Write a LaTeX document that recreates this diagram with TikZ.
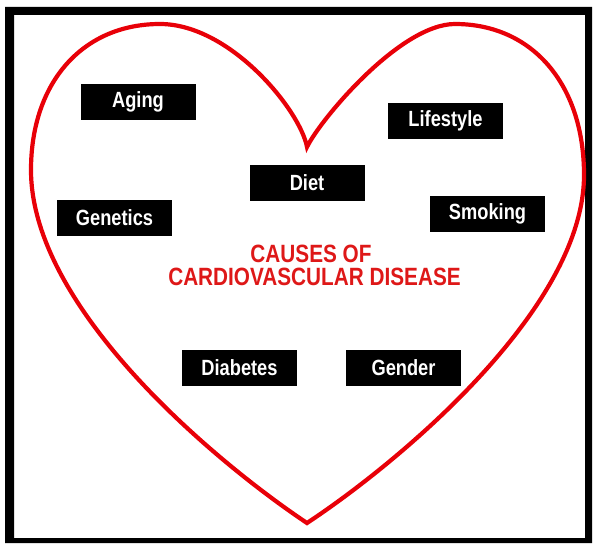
\documentclass[tikz,border=0pt]{standalone}
\usepackage{fontspec}
\setmainfont{Liberation Sans}
\definecolor{heartred}{RGB}{232,0,8}
\definecolor{titlered}{RGB}{222,24,24}
\tikzset{
  causebox/.style={fill=black, text=white, minimum width=115pt, minimum height=36pt,
    inner sep=0pt, font=\fontsize{22}{24}\selectfont\bfseries},
  titletext/.style={anchor=base, text=titlered, inner sep=0pt,
    font=\fontsize{25}{28}\selectfont\bfseries},
  heartline/.style={draw=heartred, line width=4.2pt, line join=miter}
}
\newcommand{\sqz}[2]{\scalebox{#1}[1]{#2}}
\begin{document}
\begin{tikzpicture}[x=1pt,y=-1pt]
\useasboundingbox (0,0) rectangle (593,543);
% frame
\fill[black, even odd rule] (5,7) rectangle (592,543) (14,15) rectangle (585,538);
% heart
\draw[heartline] (307,523) .. controls (220,465) and (31,310) .. (31,170)
  .. controls (31,82) and (83,24) .. (160,24)
  .. controls (230,24) and (300,110) .. (307,147)
  .. controls (320,120) and (400,24) .. (455,24)
  .. controls (532,24) and (584,84) .. (584,175)
  .. controls (584,310) and (395,465) .. (307,523) -- cycle;
% boxes
\node[causebox] (aging) at (138,101.5) {\sqz{0.83}{Aging}};
\node[causebox] (lifestyle) at (445.5,120.5) {\sqz{0.83}{Lifestyle}};
\node[causebox] (diet) at (307,182.5) {\sqz{0.83}{Diet}};
\node[causebox] (genetics) at (114.5,218) {\sqz{0.83}{Genetics}};
\node[causebox] (smoking) at (487.5,214) {\sqz{0.83}{Smoking}};
\node[causebox] (diabetes) at (239.5,368) {\sqz{0.83}{Diabetes}};
\node[causebox] (gender) at (403.5,368) {\sqz{0.83}{Gender}};
% title
\node[titletext] (t1) at (311,262) {\sqz{0.83}{CAUSES OF}};
\node[titletext] (t2) at (314.5,285) {\sqz{0.83}{CARDIOVASCULAR DISEASE}};
\end{tikzpicture}
\end{document}
